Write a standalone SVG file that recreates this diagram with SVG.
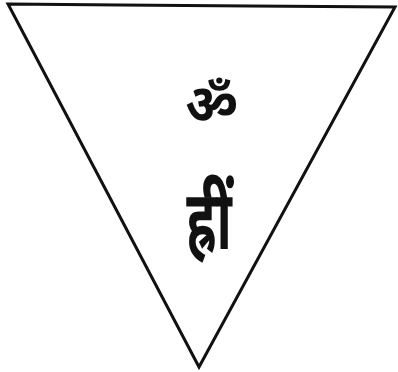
<svg xmlns="http://www.w3.org/2000/svg" width="398" height="372" viewBox="0 0 398 372">
<style>
.edge{fill:none;stroke:#111;stroke-width:3;stroke-linejoin:miter;stroke-linecap:round}
.syl{font-family:"Noto Sans Devanagari","Noto Sans","DejaVu Sans",sans-serif;font-weight:bold;fill:#111;text-anchor:middle}
</style>
<rect width="398" height="372" fill="#fff"/>
<g id="connectors">
<path class="edge" d="M8,4 L120,5 L250,6 L395,7 L199,367 Z"/>
</g>
<g id="om"><text class="syl" transform="translate(212,123) scale(1,1.05)" x="0" y="0" font-size="52">ॐ</text></g>
<g id="hrim"><text class="syl" transform="translate(209,249) scale(1,1.6)" x="0" y="0" font-size="52">ह्रीं</text></g>
</svg>
